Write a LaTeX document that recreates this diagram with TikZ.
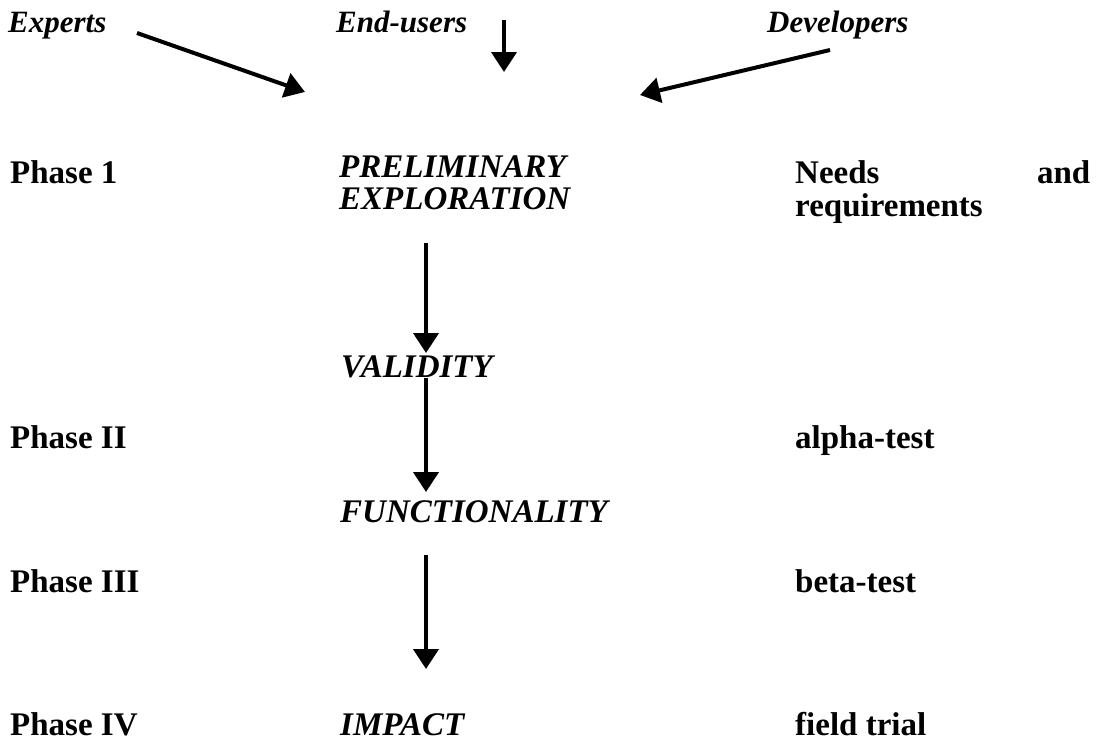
\documentclass[tikz,border=0pt]{standalone}
\usepackage{fontspec}
\setmainfont{Liberation Serif}
\usetikzlibrary{arrows.meta}
\begin{document}
\begin{tikzpicture}[x=1pt,y=-1pt,
  lbl/.style={anchor=base west,inner sep=0pt,font=\fontsize{33}{33}\selectfont\bfseries},
  stage/.style={anchor=base west,inner sep=0pt,font=\fontsize{33}{33}\selectfont\bfseries\itshape},
  actor/.style={anchor=base west,inner sep=0pt,font=\fontsize{31}{31}\selectfont\bfseries\itshape},
  arr/.style={line width=4pt,-{Triangle[length=20pt,width=25pt]}}]
\useasboundingbox (0,0) rectangle (1099,740);
% top actors
\node[actor] (experts) at (8,32) {Experts};
\node[actor] (endusers) at (336,32) {End-users};
\node[actor] (developers) at (767,32) {Developers};
% stages
\node[stage] (prelim) at (339,177) {PRELIMINARY};
\node[stage] (explor) at (339,209) {EXPLORATION};
\node[stage] (validity) at (341,377) {VALIDITY};
\node[stage] (function) at (340,522) {FUNCTIONALITY};
\node[stage] (impact) at (340,735) {IMPACT};
% phases
\node[lbl] (p1) at (10,183) {Phase 1};
\node[lbl] (p2) at (10,448) {Phase II};
\node[lbl] (p3) at (10,592) {Phase III};
\node[lbl] (p4) at (10,735) {Phase IV};
% outcomes
\node[lbl] (needs) at (795,183) {\makebox[295pt][s]{Needs and}};
\node[lbl] (req) at (795,216) {requirements};
\node[lbl] (alpha) at (795,448) {alpha-test};
\node[lbl] (beta) at (795,592) {beta-test};
\node[lbl] (field) at (795,735) {field trial};
% connector ends
\coordinate (c1s) at (137,33);  \coordinate (c1e) at (305,92);
\coordinate (c2s) at (504,20);  \coordinate (c2e) at (504,72);
\coordinate (c3s) at (830,50);  \coordinate (c3e) at (640,95);
\coordinate (v1s) at (426,243); \coordinate (v1e) at (426,353);
\coordinate (v2s) at (426,378); \coordinate (v2e) at (426,492);
\coordinate (v3s) at (426,555); \coordinate (v3e) at (426,669);
\draw[arr] (c1s) -- (c1e);
\draw[arr] (c2s) -- (c2e);
\draw[arr] (c3s) -- (c3e);
\draw[arr] (v1s) -- (v1e);
\draw[arr] (v2s) -- (v2e);
\draw[arr] (v3s) -- (v3e);
\end{tikzpicture}
\end{document}
